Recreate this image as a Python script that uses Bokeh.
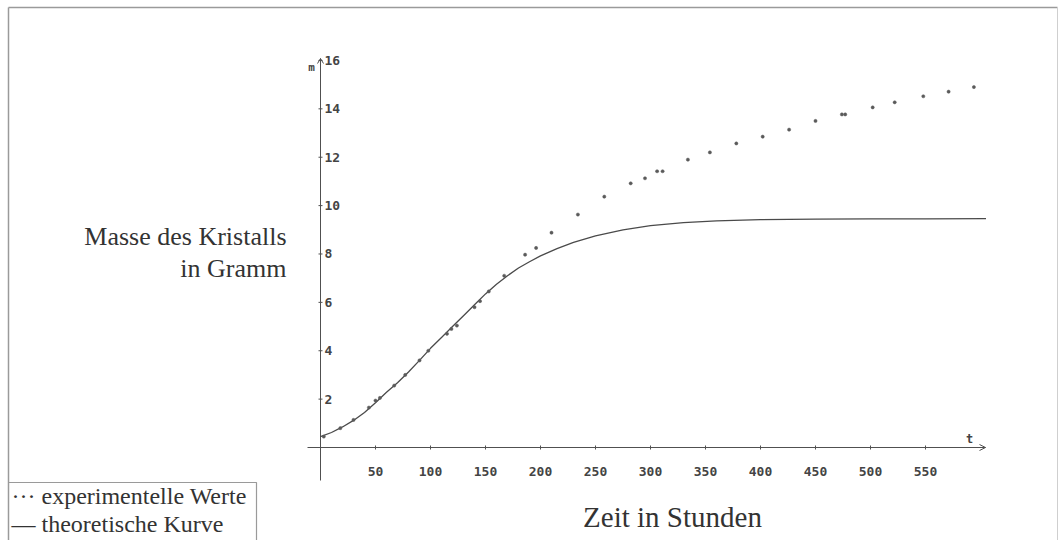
from bokeh.plotting import figure
from bokeh.models import Range1d, Label, ColumnDataSource
from bokeh.embed import file_html
from bokeh.resources import INLINE
from bokeh.core.properties import value

# ---- data ----
exp_t = [3, 18, 30, 44, 50, 54, 67, 77, 90, 98, 115, 119, 124, 140, 145, 153, 167,
         186, 196, 210, 234, 258, 282, 295, 306, 311, 334, 354, 378, 402, 426, 450,
         474, 477, 502, 522, 548, 571, 594]
exp_m = [0.45, 0.8, 1.14, 1.65, 1.94, 2.05, 2.56, 3.0, 3.6, 4.0, 4.7, 4.9, 5.04, 5.8,
         6.05, 6.45, 7.1, 7.97, 8.25, 8.88, 9.63, 10.37, 10.92, 11.13, 11.42, 11.42,
         11.9, 12.2, 12.57, 12.85, 13.14, 13.5, 13.77, 13.77, 14.06, 14.27, 14.52,
         14.71, 14.9]

curve_t = [0, 10, 20, 30, 40, 50, 60, 70, 80, 90, 100, 110, 120, 130, 140, 150, 160,
           170, 180, 190, 200, 215, 230, 250, 275, 300, 330, 360, 400, 450, 500, 550, 605]
curve_m = [0.45, 0.62, 0.85, 1.12, 1.45, 1.85, 2.28, 2.68, 3.12, 3.6, 4.1, 4.55, 5.0,
           5.45, 5.9, 6.35, 6.75, 7.1, 7.42, 7.68, 7.92, 8.22, 8.48, 8.75, 9.0, 9.17,
           9.3, 9.37, 9.42, 9.44, 9.45, 9.45, 9.46]

x_ticks = [50, 100, 150, 200, 250, 300, 350, 400, 450, 500, 550]
x_tick_labels = [str(v) for v in x_ticks]
y_ticks = [2, 4, 6, 8, 10, 12, 14, 16]
y_tick_labels = [str(v) for v in y_ticks]

x_axis_label = "t"
y_axis_label = "m"
x_title = "Zeit in Stunden"
y_title_1 = "Masse des Kristalls"
y_title_2 = "in Gramm"
legend_1 = "\u00b7\u00b7\u00b7 experimentelle Werte"
legend_2 = "\u2014 theoretische Kurve"

# ---- layout helpers (pixel -> data) ----
W, H = 1063, 540
X0PX, XSCALE = 320.0, 1.1
Y0PX, YSCALE = 447.0, 24.19


def X(px):
    return (px - X0PX) / XSCALE


def Y(py):
    return (Y0PX - py) / YSCALE


p = figure(width=W, height=H, output_backend="svg", toolbar_location=None,
           x_range=Range1d(X(0), X(W)), y_range=Range1d(Y(H), Y(0)),
           x_axis_location=None, y_axis_location=None, min_border=0)
p.grid.visible = False
p.outline_line_color = None
p.background_fill_color = "white"
p.border_fill_color = "white"

AX = "#505050"
FR = "#9a9a9a"
TXT = "#333333"

# page frame
p.line([X(8), X(1057)], [Y(7), Y(7)], line_color=FR, line_width=1.5)
p.line([X(8), X(8)], [Y(7), Y(540)], line_color=FR, line_width=1.5)
p.line([X(1057), X(1057)], [Y(7), Y(540)], line_color="#cfcfcf", line_width=1)

# axes
p.line([X(307), X(985)], [0, 0], line_color=AX, line_width=1)
p.line([0, 0], [Y(480), Y(58)], line_color=AX, line_width=1)
p.line([X(979), X(985), X(979)], [Y(444), Y(447), Y(450)], line_color=AX, line_width=1)
p.line([X(317), X(320), X(323)], [Y(63), Y(58), Y(63)], line_color=AX, line_width=1)

# ticks
p.segment(x0=x_ticks, x1=x_ticks, y0=[Y(449)] * len(x_ticks), y1=[Y(445)] * len(x_ticks),
          line_color=AX, line_width=1)
p.segment(x0=[X(318)] * len(y_ticks), x1=[X(322)] * len(y_ticks), y0=y_ticks, y1=y_ticks,
          line_color=AX, line_width=1)

tick_font = value("DejaVu Sans Mono")
p.text(x=x_ticks, y=[Y(471)] * len(x_ticks), text=x_tick_labels, text_align="center",
       text_baseline="middle", text_font=tick_font, text_font_style="bold",
       text_font_size="13px", text_color="#444444")
p.text(x=[X(324)] * len(y_ticks), y=y_ticks, text=y_tick_labels, text_align="left",
       text_baseline="middle", text_font=tick_font, text_font_style="bold",
       text_font_size="13px", text_color="#444444")

p.add_layout(Label(x=X(311), y=Y(67), text=y_axis_label, text_align="center",
                   text_baseline="middle", text_font="DejaVu Sans Mono",
                   text_font_style="bold", text_font_size="11px", text_color="#444444"))
p.add_layout(Label(x=X(969), y=Y(438), text=x_axis_label, text_align="center",
                   text_baseline="middle", text_font="DejaVu Sans Mono",
                   text_font_style="bold", text_font_size="12px", text_color="#444444"))

# theoretical curve and experimental values
p.line(curve_t, curve_m, line_color="#4a4a4a", line_width=1.3)
src = ColumnDataSource(dict(t=exp_t, m=exp_m))
p.scatter("t", "m", source=src, marker="circle", size=3.2, fill_color="#5a5a5a",
          line_color="#5a5a5a", line_width=0.5)

# titles
serif = "Liberation Serif"
p.add_layout(Label(x=X(286), y=Y(236), text=y_title_1, text_align="right",
                   text_baseline="middle", text_font=serif, text_font_size="26px",
                   text_color=TXT))
p.add_layout(Label(x=X(286), y=Y(268), text=y_title_2, text_align="right",
                   text_baseline="middle", text_font=serif, text_font_size="26px",
                   text_color=TXT))
p.add_layout(Label(x=X(672), y=Y(516), text=x_title, text_align="center",
                   text_baseline="middle", text_font=serif, text_font_size="29px",
                   text_color=TXT))

# legend box
p.line([X(8), X(256), X(256)], [Y(482), Y(482), Y(540)], line_color=FR, line_width=1.2)
p.add_layout(Label(x=X(11), y=Y(495), text=legend_1, text_align="left",
                   text_baseline="middle", text_font=serif, text_font_size="24px",
                   text_color=TXT))
p.add_layout(Label(x=X(11), y=Y(523), text=legend_2, text_align="left",
                   text_baseline="middle", text_font=serif, text_font_size="24px",
                   text_color=TXT))

open("out.html", "w").write(file_html(p, INLINE))
